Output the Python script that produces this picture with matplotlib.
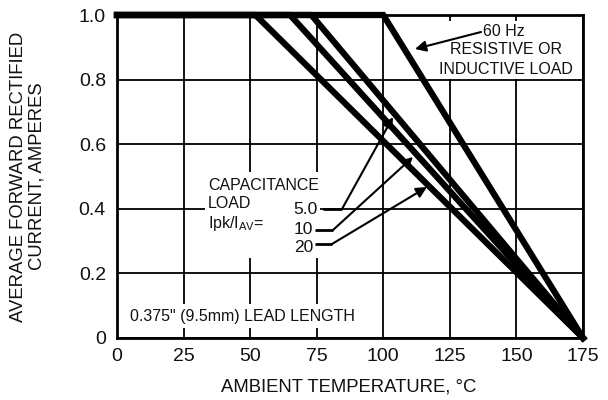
import matplotlib
matplotlib.use("Agg")
import matplotlib.pyplot as plt
from matplotlib.patches import Rectangle

plt.rcParams['font.family'] = ['Liberation Sans', 'DejaVu Sans']
plt.rcParams['mathtext.fontset'] = 'custom'
plt.rcParams['mathtext.rm'] = 'Liberation Sans'
plt.rcParams['mathtext.it'] = 'Liberation Sans'

# Derating curves: current stays at 1.0 A up to the knee, then falls linearly to 0 at 175 C
curve_names = ["Resistive/Inductive", "5.0", "10", "20"]
knee_temps = [100, 73, 65, 52]
max_current = 1.0
max_temp = 175

x_ticks = [0, 25, 50, 75, 100, 125, 150, 175]
y_ticks = [0, 0.2, 0.4, 0.6, 0.8, 1.0]
y_tick_labels = ["0", "0.2", "0.4", "0.6", "0.8", "1.0"]

TXT = '#111111'

fig = plt.figure(figsize=(6.08, 4.0), dpi=100)
ax = fig.add_axes([117/608, 1-338/400, (583-117)/608, (338-15)/400])
ax.set_xlim(0, 175)
ax.set_ylim(0, 1.0)
ax.set_xticks(x_ticks)
ax.set_yticks(y_ticks)
ax.set_yticklabels(y_tick_labels)
ax.tick_params(length=0, labelsize=14, colors=TXT)
ax.tick_params(axis='y', pad=8)
ax.tick_params(axis='x', pad=7)
ax.grid(True, color='black', lw=1.3, zorder=1)
ax.set_axisbelow(True)
for s in ax.spines.values():
    s.set_linewidth(2.0)
    s.set_zorder(2)

for k in knee_temps:
    ax.plot([0, k, max_temp], [max_current, max_current, 0], color='black',
            lw=4.5, solid_joinstyle='miter', clip_on=False, zorder=5)

ax.set_xlabel("AMBIENT TEMPERATURE, °C", fontsize=13.3, color=TXT, va='center')
ax.xaxis.set_label_coords(0.498, -0.152)
ax.set_ylabel("AVERAGE FORWARD RECTIFIED\nCURRENT, AMPERES", fontsize=13.3,
              color=TXT, linespacing=1.15, va='center')
ax.yaxis.set_label_coords(-0.192, 0.5)

def px(xp, yp):
    return ((xp - 117) / (466 / 175), (338 - yp) / 323)

def white_block(x0, y0, x1, y1):
    a = px(x0, y1)
    b = px(x1, y0)
    ax.add_patch(Rectangle(a, b[0] - a[0], b[1] - a[1], facecolor='white',
                           edgecolor='none', zorder=3))

bbox = dict(facecolor='white', edgecolor='none', pad=1.5)
arrow = dict(arrowstyle='-|>', lw=1.5, color='black', mutation_scale=16,
             shrinkA=0, shrinkB=0)
FS = 11.5

# Resistive label
white_block(436, 21, 578, 78)
ax.text(*px(483, 31), "60 Hz", fontsize=FS, ha='left', va='center', bbox=bbox,
        zorder=6, color=TXT)
ax.text(*px(506, 49), "RESISTIVE OR", fontsize=FS, ha='center', va='center',
        bbox=bbox, zorder=6, color=TXT)
ax.text(*px(506, 69), "INDUCTIVE LOAD", fontsize=FS, ha='center', va='center',
        bbox=bbox, zorder=6, color=TXT)
ax.annotate("", xy=px(415, 49), xytext=px(481, 32), arrowprops=arrow, zorder=7)

# Capacitance label
white_block(205, 172, 319, 258)
cap_lines = ["CAPACITANCE", "LOAD", "Ipk/I$_{\\mathrm{AV}}$="]
cap_y = [185, 204, 224]
for t, yy in zip(cap_lines, cap_y):
    ax.text(*px(208, yy), t, fontsize=FS, ha='left', va='center', bbox=bbox,
            zorder=6, color=TXT)

ratio_text_pos = [(318, 209), (313, 229), (313, 247)]
ratio_line = [((323, 209), (342, 209), (393, 117)),
              ((315, 230), (333, 230), (413, 157)),
              ((315, 244), (332, 244), (427, 187))]
for name, tp, seg in zip(curve_names[1:], ratio_text_pos, ratio_line):
    ax.text(*px(*tp), name, fontsize=12.5, ha='right', va='center', bbox=bbox,
            zorder=6, color=TXT)
    (a, b, c) = seg
    pa, pb = px(*a), px(*b)
    ax.plot([pa[0], pb[0]], [pa[1], pb[1]], color='black', lw=2.0, zorder=7,
            solid_capstyle='butt')
    ax.annotate("", xy=px(*c), xytext=pb, arrowprops=arrow, zorder=7)

ax.text(*px(130, 316), "0.375\" (9.5mm) LEAD LENGTH", fontsize=FS, ha='left',
        va='center', bbox=dict(facecolor='white', edgecolor='none', pad=3),
        zorder=6, color=TXT)

fig.savefig("out.png", dpi=100)
